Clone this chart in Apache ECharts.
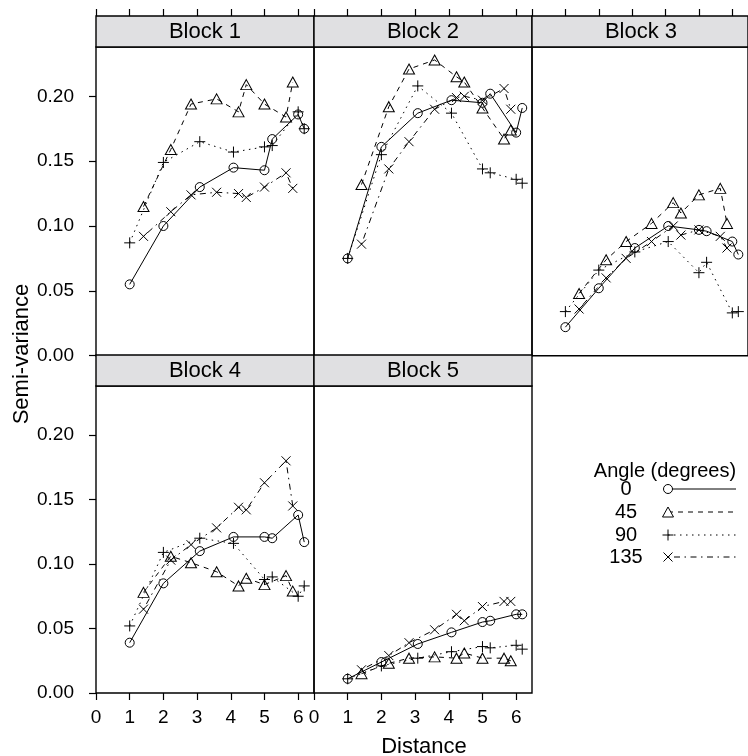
<!DOCTYPE html>
<html>
<head>
<meta charset="utf-8">
<script src="https://cdn.jsdelivr.net/npm/echarts@6/dist/echarts.min.js"></script>
<style>
html, body { margin: 0; padding: 0; background: #fff; }
#main { width: 748px; height: 756px; }
</style>
</head>
<body>
<div id="main"></div>
<script>
var blockNames = ['Block 1', 'Block 2', 'Block 3', 'Block 4', 'Block 5'];
var angleNames = ['0', '45', '90', '135'];
var xTicks = [0, 1, 2, 3, 4, 5, 6];
var yTicks = [0, 0.05, 0.10, 0.15, 0.20];

// lag distances: 0 and 90 degrees share one set, 45 and 135 the other
var distA = [1, 2, 3.08, 4.08, 5, 5.23, 6, 6.18];
var distB = [1.41, 2.22, 2.82, 3.58, 4.23, 4.46, 5, 5.64, 5.84];

// semi-variance per block, order: 0, 45, 90, 135
var block1 = [
    [0.055, 0.100, 0.130, 0.145, 0.143, 0.167, 0.186, 0.175],
    [0.115, 0.159, 0.194, 0.198, 0.188, 0.209, 0.194, 0.184, 0.211],
    [0.087, 0.149, 0.165, 0.157, 0.161, 0.162, 0.188, 0.175],
    [0.092, 0.111, 0.124, 0.126, 0.125, 0.122, 0.130, 0.141, 0.129]
];
var block2 = [
    [0.075, 0.161, 0.187, 0.197, 0.195, 0.202, 0.172, 0.191],
    [0.132, 0.192, 0.221, 0.228, 0.215, 0.211, 0.191, 0.167, 0.174],
    [0.075, 0.155, 0.208, 0.187, 0.144, 0.141, 0.136, 0.133],
    [0.086, 0.144, 0.165, 0.190, 0.199, 0.200, 0.197, 0.206, 0.190]
];
var block3 = [
    [0.022, 0.052, 0.083, 0.100, 0.097, 0.096, 0.088, 0.078],
    [0.048, 0.074, 0.088, 0.102, 0.118, 0.110, 0.124, 0.129, 0.102],
    [0.034, 0.066, 0.080, 0.088, 0.064, 0.072, 0.033, 0.034],
    [0.036, 0.060, 0.075, 0.088, 0.100, 0.093, 0.097, 0.092, 0.083]
];
var block4 = [
    [0.039, 0.085, 0.110, 0.121, 0.121, 0.120, 0.138, 0.117],
    [0.078, 0.106, 0.101, 0.094, 0.083, 0.089, 0.084, 0.091, 0.079],
    [0.052, 0.109, 0.120, 0.116, 0.088, 0.090, 0.075, 0.083],
    [0.065, 0.103, 0.115, 0.128, 0.144, 0.142, 0.163, 0.180, 0.145]
];
var block5 = [
    [0.011, 0.024, 0.038, 0.047, 0.055, 0.056, 0.061, 0.061],
    [0.015, 0.023, 0.027, 0.028, 0.027, 0.031, 0.027, 0.027, 0.025],
    [0.011, 0.021, 0.027, 0.032, 0.036, 0.035, 0.037, 0.034],
    [0.018, 0.029, 0.039, 0.049, 0.061, 0.056, 0.067, 0.071, 0.071]
];
var blocks = [block1, block2, block3, block4, block5];

var FONT = 'Liberation Sans';
var panels = [
    {left: 96, top: 47, height: 308.7},
    {left: 314, top: 47, height: 308.7},
    {left: 532, top: 47, height: 308.7},
    {left: 96, top: 386, height: 307},
    {left: 314, top: 386, height: 307}
];
var panelW = 218, stripH = 31;

var symbols = ['circle', 'triangle', 'path://M0,5L10,5M5,0L5,10', 'path://M0,0L10,10M10,0L0,10'];
var symSizes = [9, [11, 10], 11, 9];
var dashes = ['solid', [5, 5], [1.5, 4.5], [1.5, 4.5, 6, 4.5]];

var grids = [], xAxes = [], yAxes = [], series = [], graphics = [];

// data panels: grid 0..4
panels.forEach(function (p, i) {
    var bottomRow = i >= 3;
    grids.push({
        left: p.left, top: p.top, width: panelW, height: p.height,
        show: true, borderColor: '#000', borderWidth: 1.4, backgroundColor: 'transparent'
    });
    xAxes.push({
        gridIndex: i, type: 'value', min: 0, max: 6.47,
        position: 'bottom',
        show: bottomRow,
        axisLine: {show: false, onZero: false},
        axisTick: {show: true, length: 7, inside: false, customValues: xTicks,
            lineStyle: {color: '#000', width: 1.2}},
        axisLabel: {customValues: xTicks, margin: 15,
            color: '#000', fontSize: 19, fontFamily: FONT},
        splitLine: {show: false}
    });
    var leftCol = (i === 0 || i === 3);
    yAxes.push({
        gridIndex: i, type: 'value', min: 0, max: 0.238,
        show: leftCol,
        axisLine: {show: false, onZero: false},
        axisTick: {show: true, length: 7, inside: false, customValues: yTicks,
            lineStyle: {color: '#000', width: 1.2}},
        axisLabel: {customValues: yTicks, margin: 22, color: '#000', fontSize: 19,
            fontFamily: FONT, formatter: function (v) { return v.toFixed(2); }},
        splitLine: {show: false}
    });

    blocks[i].forEach(function (vals, a) {
        var dist = (a % 2 === 0) ? distA : distB;
        series.push({
            name: angleNames[a],
            type: 'line',
            xAxisIndex: i, yAxisIndex: i,
            data: dist.map(function (d, k) { return [d, vals[k]]; }),
            symbol: symbols[a],
            symbolSize: symSizes[a],
            showAllSymbol: true,
            itemStyle: {color: 'rgba(0,0,0,0)', borderColor: '#000', borderWidth: 1},
            lineStyle: {color: '#000', width: 1, type: dashes[a]},
            emphasis: {disabled: true},
            z: 3
        });
    });
});

// strips: grid 5..9, top row strips carry the top tick marks
panels.forEach(function (p, i) {
    var gi = panels.length + i;
    grids.push({
        left: p.left, top: p.top - stripH, width: panelW, height: stripH,
        show: true, borderColor: '#000', borderWidth: 1.4, backgroundColor: '#e0e0e2'
    });
    xAxes.push({
        gridIndex: gi, type: 'value', min: 0, max: 6.47,
        position: 'top',
        show: i < 3,
        axisLine: {show: false, onZero: false},
        axisTick: {show: true, length: 7, inside: false, customValues: xTicks,
            lineStyle: {color: '#000', width: 1.2}},
        axisLabel: {show: false},
        splitLine: {show: false}
    });
    yAxes.push({gridIndex: gi, type: 'value', min: 0, max: 1, show: false});
    graphics.push({
        type: 'text', silent: true, z: 11,
        x: p.left + panelW / 2, y: p.top - stripH / 2,
        style: {text: blockNames[i], font: '22px ' + FONT, fill: '#000',
            textAlign: 'center', textVerticalAlign: 'middle'}
    });
});

// axis titles
graphics.push({
    type: 'text', silent: true, x: 22, y: 354, rotation: Math.PI / 2,
    style: {text: 'Semi-variance', font: '22px ' + FONT, fill: '#000',
        textAlign: 'center', textVerticalAlign: 'middle'}
});
graphics.push({
    type: 'text', silent: true, x: 424, y: 747,
    style: {text: 'Distance', font: '22px ' + FONT, fill: '#000',
        textAlign: 'center', textVerticalAlign: 'middle'}
});

// legend (key)
graphics.push({
    type: 'text', silent: true, x: 665, y: 471,
    style: {text: 'Angle (degrees)', font: '20px ' + FONT, fill: '#000',
        textAlign: 'center', textVerticalAlign: 'middle'}
});
var keyY = [489, 512, 535, 557];
function seg(x1, y1, x2, y2, dash) {
    return {type: 'line', silent: true, z: 12,
        shape: {x1: x1, y1: y1, x2: x2, y2: y2},
        style: {stroke: '#000', lineWidth: 1, lineDash: dash || null}};
}
angleNames.forEach(function (name, a) {
    var y = keyY[a];
    graphics.push({
        type: 'text', silent: true, x: 626, y: y,
        style: {text: name, font: '20px ' + FONT, fill: '#000',
            textAlign: 'center', textVerticalAlign: 'middle'}
    });
    graphics.push(seg(668, y, 736, y, a === 0 ? null : dashes[a]));
    if (a === 0) {
        graphics.push({type: 'circle', silent: true, z: 13, shape: {cx: 668, cy: y, r: 4.5},
            style: {fill: '#fff', stroke: '#000', lineWidth: 1}});
    } else if (a === 1) {
        graphics.push({type: 'polygon', silent: true, z: 13,
            shape: {points: [[668, y - 5], [673.5, y + 5], [662.5, y + 5]]},
            style: {fill: '#fff', stroke: '#000', lineWidth: 1}});
    } else if (a === 2) {
        graphics.push(seg(662.5, y, 673.5, y));
        graphics.push(seg(668, y - 5.5, 668, y + 5.5));
    } else {
        graphics.push(seg(663.5, y - 4.5, 672.5, y + 4.5));
        graphics.push(seg(672.5, y - 4.5, 663.5, y + 4.5));
    }
});

var chart = echarts.init(document.getElementById('main'));
chart.setOption({
    animation: false,
    backgroundColor: '#fff',
    textStyle: {fontFamily: FONT},
    grid: grids,
    xAxis: xAxes,
    yAxis: yAxes,
    series: series,
    graphic: graphics
});
window.addEventListener('resize', function () { chart.resize(); });
</script>
</body>
</html>
